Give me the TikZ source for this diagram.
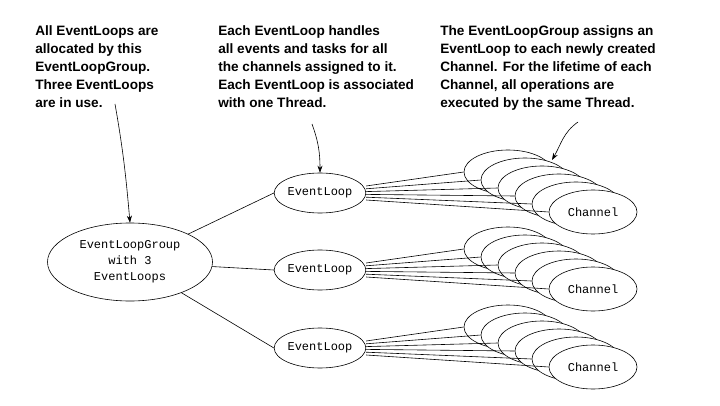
\documentclass[tikz,border=0pt]{standalone}
\usepackage{fontspec}
\setmainfont{Liberation Sans}
\setmonofont{Liberation Mono}
\usetikzlibrary{positioning,shapes,arrows.meta}
\tikzset{
  note/.style={align=left,anchor=north west,inner sep=0pt,font=\bfseries\fontsize{13.6}{18.2}\selectfont},
  loop/.style={draw,ellipse,fill=white,inner sep=0pt,font=\ttfamily\fontsize{12}{14}\selectfont},
  chan/.style={loop,minimum width=88pt,minimum height=44pt},
  pointer/.style={-{Stealth[length=7pt,width=5pt]}}
}
\begin{document}
\begin{tikzpicture}[x=1pt,y=-1pt,semithick]
\useasboundingbox (0,0) rectangle (720,406);
% the notes on top
\node[note] (n1) at (35,25) {All EventLoops are\\allocated by this\\EventLoopGroup.\\Three EventLoops\\are in use.};
\node[note] (n2) at (218,25) {Each EventLoop handles\\all events and tasks for all\\the channels assigned to it.\\Each EventLoop is associated\\with one Thread.};
\node[note] (n3) at (440,25) {The EventLoopGroup assigns an\\EventLoop to each newly created\\Channel. For the lifetime of each\\Channel, all operations are\\executed by the same Thread.};

% the group
\node[loop,minimum width=165pt,minimum height=78pt,align=center,font=\ttfamily\fontsize{12}{16}\selectfont] (grp) at (130,262) {EventLoopGroup\\with 3\\EventLoops};

% the loops and their channels
\foreach \i/\y in {1/193,2/270,3/348}{
  \node[loop,minimum width=82pt,minimum height=40pt] (el\i) at (320,\y) {EventLoop};
  \draw (grp) -- (el\i.west);
  \foreach \k in {5,4,...,0}{
    \node[chan] (ch\i\k) at ({593-17*\k},{\y+19-8*\k}) {\ifnum\k=0 Channel\fi};
    \draw (el\i.east) ++(0,{7-2.8*\k}) -- (ch\i\k.west);
  }
}

% the pointers
\draw[pointer] (115,104) to[out=-80,in=95] (grp.north);
\draw[pointer] (312,124) to[out=-70,in=90] (el1.north);
\draw[pointer] (578,122) to[out=-145,in=60] (552,160);
\end{tikzpicture}
\end{document}
